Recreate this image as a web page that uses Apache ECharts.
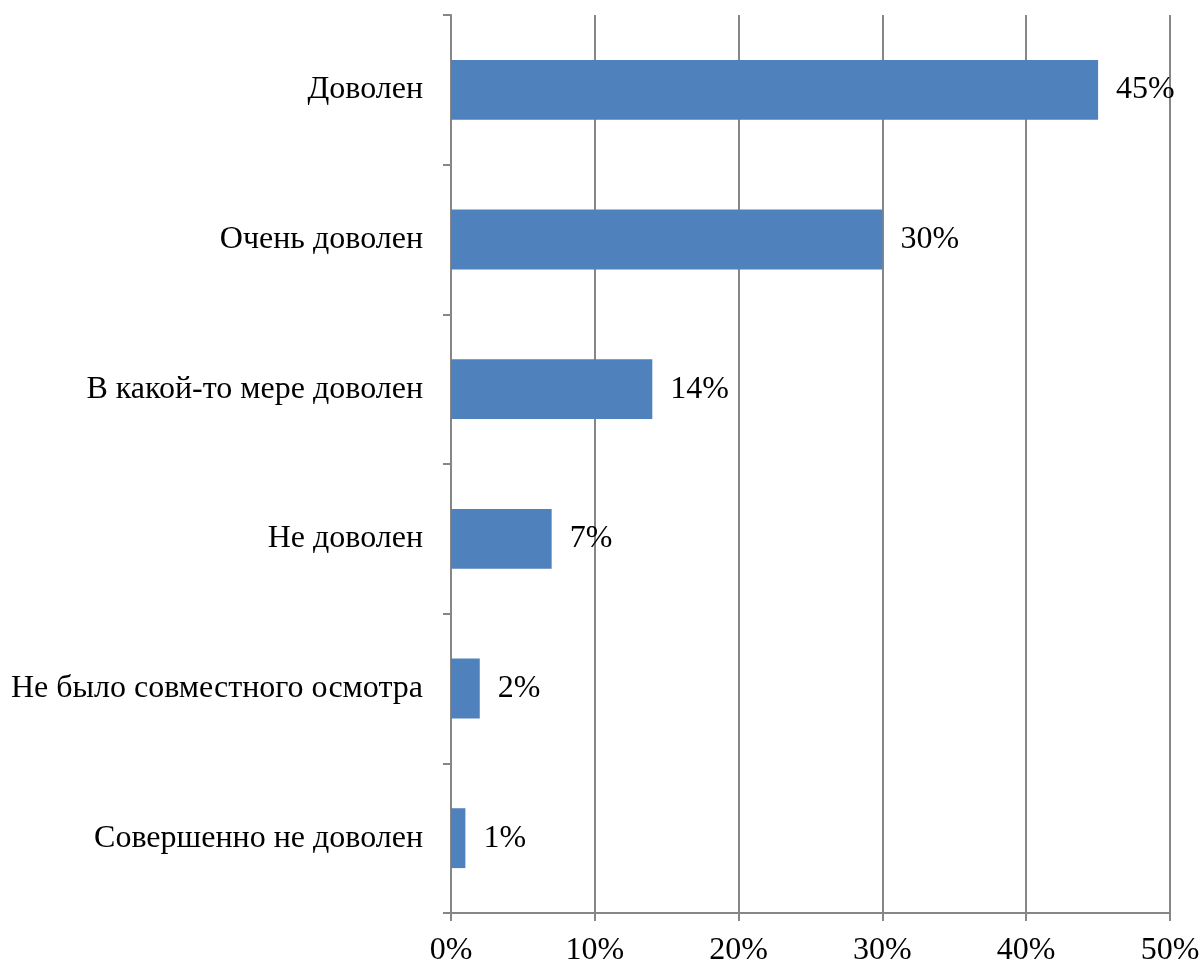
<!DOCTYPE html>
<html>
<head>
<meta charset="utf-8">
<script src="https://cdn.jsdelivr.net/npm/echarts@6/dist/echarts.min.js"></script>
<style>
  html, body { margin: 0; padding: 0; background: #fff; }
  #chart { width: 1200px; height: 963px; }
</style>
</head>
<body>
<div id="chart"></div>
<script>
// Survey answers, top to bottom
const categories = [
  'Доволен',
  'Очень доволен',
  'В какой-то мере доволен',
  'Не доволен',
  'Не было совместного осмотра',
  'Совершенно не доволен'
];
// Share of respondents, percent
const shares = [45, 30, 14, 7, 2, 1];
// Value axis ticks, percent
const axisTicks = [0, 10, 20, 30, 40, 50];

const font = '"Liberation Serif", "Times New Roman", serif';
const gray = '#868686';
const fontSize = 32;

const chart = echarts.init(document.getElementById('chart'));
chart.setOption({
  backgroundColor: '#ffffff',
  animation: false,
  grid: {
    left: 451, right: 30, top: 15, bottom: 50,
    containLabel: false,
    outerBoundsMode: 'none'
  },
  xAxis: {
    type: 'value',
    min: axisTicks[0],
    max: axisTicks[axisTicks.length - 1],
    interval: axisTicks[1] - axisTicks[0],
    axisLine: { show: true, lineStyle: { color: gray, width: 2 } },
    axisTick: { show: true, length: 8, lineStyle: { color: gray, width: 2 } },
    splitLine: { show: true, lineStyle: { color: gray, width: 2 } },
    axisLabel: {
      formatter: v => v + '%',
      fontFamily: font, fontSize: fontSize, color: '#000', margin: 22
    }
  },
  yAxis: {
    type: 'category',
    data: categories,
    inverse: true,
    axisLine: { show: true, lineStyle: { color: gray, width: 2 } },
    axisTick: { show: true, length: 8, lineStyle: { color: gray, width: 2 } },
    axisLabel: { fontFamily: font, fontSize: fontSize, color: '#000', margin: 28, padding: [6, 0, 0, 0] }
  },
  series: [{
    type: 'bar',
    data: shares,
    barCategoryGap: '60%',
    itemStyle: { color: '#4F81BD' },
    label: {
      show: true,
      position: 'right',
      distance: 18,
      padding: [6, 0, 0, 0],
      formatter: p => p.value + '%',
      fontFamily: font, fontSize: fontSize, color: '#000'
    }
  }]
});
</script>
</body>
</html>
